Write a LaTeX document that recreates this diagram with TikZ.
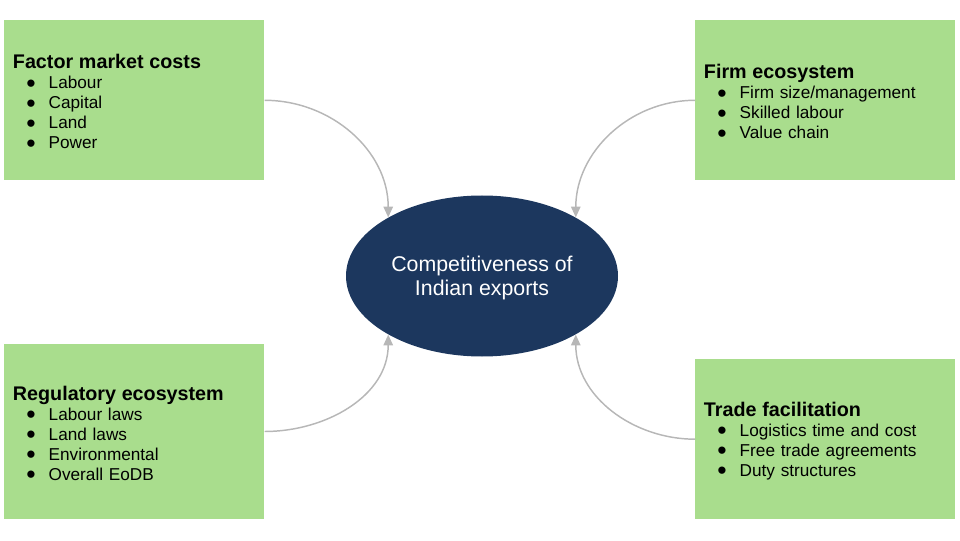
\documentclass[tikz,border=0pt]{standalone}
\usepackage{fontspec}
\setmainfont{Liberation Sans}
\usetikzlibrary{arrows.meta, shapes.geometric}
\definecolor{cgreen}{HTML}{A9DD8D}
\definecolor{cnavy}{HTML}{1C375E}
\definecolor{cgrey}{HTML}{B7B7B7}
\newcommand{\bhead}[1]{{\fontsize{14.8pt}{16pt}\selectfont\bfseries\rule{0pt}{13pt}#1}}
\newcommand{\bitem}[1]{\hspace*{13.5pt}\makebox[0pt]{\raisebox{-2.6pt}[0pt][0pt]{\fontsize{20pt}{15pt}\selectfont\textbullet}}\hspace*{13.3pt}#1}
\tikzset{
  factor/.style={fill=cgreen, minimum width=195pt, minimum height=#1, text width=182pt, inner xsep=6.5pt, align=left, font=\fontsize{12.9pt}{15pt}\selectfont},
  factor/.default=120pt,
  target/.style={ellipse, fill=cnavy, text=white, minimum width=204pt, minimum height=120.75pt, inner sep=0pt, align=center, font=\fontsize{16pt}{18pt}\selectfont},
  link/.style={-{Triangle[length=8pt, width=7pt]}, draw=cgrey, line width=1.1pt},
}

\begin{document}
\begin{tikzpicture}[x=0.75pt, y=0.75pt]
  \useasboundingbox (0,0) rectangle (960,540);
  % centre
  \node[target] (comp) at (482,264) {\rule{0pt}{14.7pt}Competitiveness of\\Indian exports};
  % the four groups of factors
  \node[factor] (fmc) at (134.3,439.7) {\bhead{Factor market costs}\\ \bitem{Labour}\\ \bitem{Capital}\\ \bitem{Land}\\ \bitem{Power}};
  \node[factor] (firm) at (825.3,439.7) {\bhead{Firm ecosystem}\\ \bitem{Firm size/management}\\ \bitem{Skilled labour}\\ \bitem{Value chain}};
  \node[factor=131.25pt] (reg) at (134.3,108.5) {\bhead{Regulatory ecosystem}\\ \bitem{Labour laws}\\ \bitem{Land laws}\\ \bitem{Environmental}\\ \bitem{Overall EoDB}};
  \node[factor] (trade) at (825.3,100.8) {\bhead{Trade facilitation}\\ \bitem{Logistics time and cost}\\ \bitem{Free trade agreements}\\ \bitem{Duty structures}};
  \draw[link] (fmc.east) to[out=0, in=90] (comp.148);
  \draw[link] (firm.west) to[out=180, in=90] (comp.32);
  \draw[link] (reg.east) to[out=0, in=-90] (comp.212);
  \draw[link] (trade.west) to[out=180, in=-90] (comp.328);
\end{tikzpicture}
\end{document}
